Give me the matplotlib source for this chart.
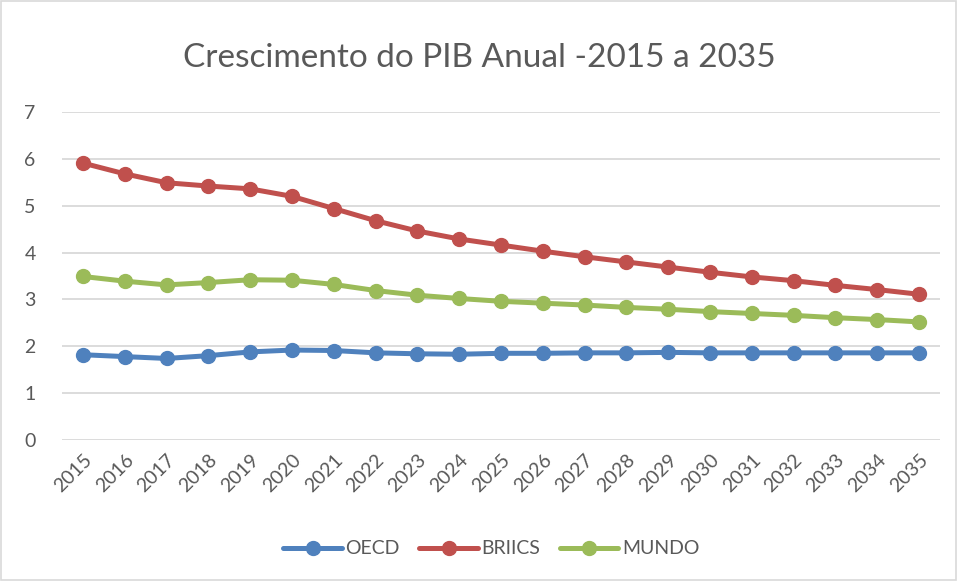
import matplotlib.pyplot as plt
from matplotlib.patches import Rectangle

# Data
anos = [str(a) for a in range(2015, 2036)]
oecd = [1.82, 1.78, 1.74, 1.80, 1.88, 1.92, 1.91, 1.86, 1.84, 1.83, 1.85,
        1.85, 1.86, 1.86, 1.87, 1.86, 1.86, 1.86, 1.86, 1.86, 1.86]
briics = [5.91, 5.68, 5.49, 5.42, 5.36, 5.20, 4.94, 4.68, 4.46, 4.29, 4.16,
          4.03, 3.91, 3.80, 3.69, 3.58, 3.48, 3.40, 3.30, 3.21, 3.11]
mundo = [3.49, 3.39, 3.31, 3.36, 3.42, 3.41, 3.32, 3.19, 3.09, 3.02, 2.96,
         2.92, 2.88, 2.83, 2.79, 2.74, 2.70, 2.66, 2.61, 2.57, 2.52]

AZUL = '#4F81BD'
VERMELHO = '#C0504D'
VERDE = '#9BBB59'
CINZA = '#595959'

plt.rcParams['font.family'] = ['Lato', 'DejaVu Sans']

fig = plt.figure(figsize=(9.58, 5.81), dpi=100)
ax = fig.add_axes([62/958, 141/581, 878/958, 328/581])

x = list(range(len(anos)))
for serie, cor, nome in [(oecd, AZUL, 'OECD'), (briics, VERMELHO, 'BRIICS'), (mundo, VERDE, 'MUNDO')]:
    ax.plot(x, serie, color=cor, lw=3.6, marker='o', markersize=10, label=nome,
            solid_capstyle='round', zorder=3)

ax.set_ylim(0, 7)
ax.set_xlim(-0.5, len(anos) - 0.5)
ax.set_yticks(range(0, 8))
ax.set_xticks(x)
ax.set_xticklabels(anos, rotation=45, ha='right', rotation_mode='anchor')
ax.grid(axis='y', color='#D9D9D9', lw=1.3, zorder=0)
ax.tick_params(axis='both', length=0, labelsize=14, labelcolor=CINZA)
ax.tick_params(axis='y', pad=19)
ax.tick_params(axis='x', pad=8)
for s in ax.spines.values():
    s.set_visible(False)

fig.text(0.5, 1 - 58/581, 'Crescimento do PIB Anual -2015 a 2035', ha='center', va='center',
         fontsize=24, color=CINZA)

fig.legend(loc='center', bbox_to_anchor=(0.513, 1 - 549/581), ncol=3, frameon=False,
           fontsize=14, handlelength=3.0, columnspacing=1.0, handletextpad=0.2,
           labelcolor=CINZA)

fig.patches.append(Rectangle((0.001, 0.002), 0.997, 0.996, transform=fig.transFigure,
                             fill=False, edgecolor='#D9D9D9', lw=1.2))

fig.savefig('out.png', dpi=100)
